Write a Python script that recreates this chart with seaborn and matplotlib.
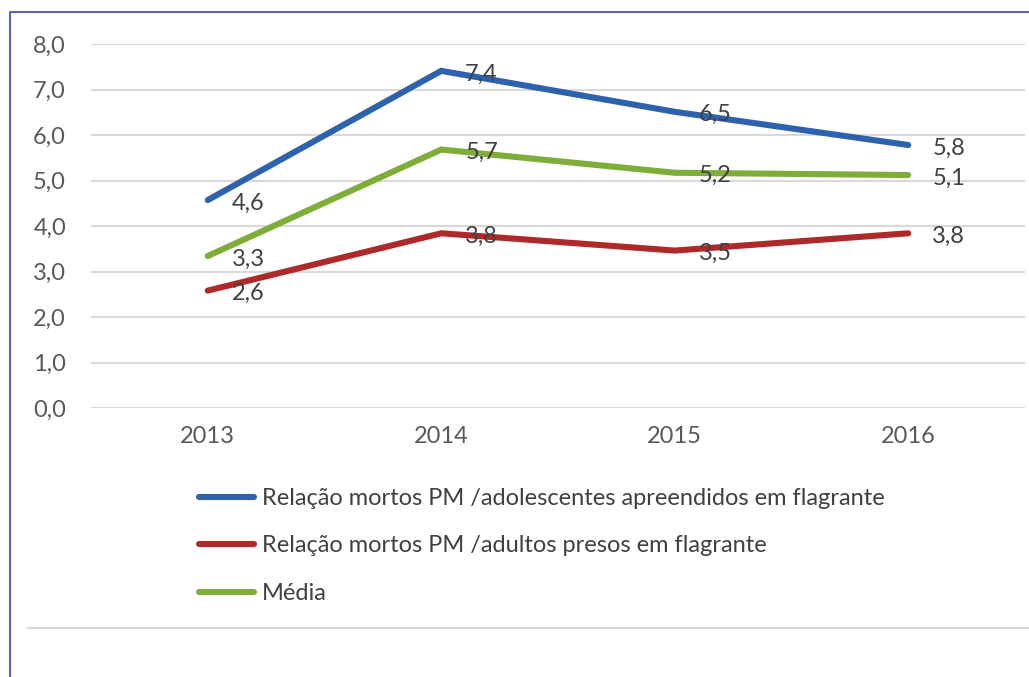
import matplotlib
matplotlib.use("Agg")
import matplotlib.pyplot as plt
import seaborn as sns
import pandas as pd
from matplotlib.lines import Line2D

years = ["2013", "2014", "2015", "2016"]
adolescentes = [4.57, 7.41, 6.51, 5.78]
adultos = [2.58, 3.84, 3.46, 3.84]
media = [3.34, 5.68, 5.17, 5.12]
series_names = [
    "Relação mortos PM /adolescentes apreendidos em flagrante",
    "Relação mortos PM /adultos presos em flagrante",
    "Média",
]
yticks = [0, 1, 2, 3, 4, 5, 6, 7, 8]

colors = ["#2E62AD", "#AE2A2A", "#7FAD3A"]
FS = 17

sns.set_theme(style="white")
plt.rcParams["font.family"] = ["Lato", "DejaVu Sans"]

df = pd.DataFrame({
    "year": years * 3,
    "value": adolescentes + adultos + media,
    "serie": [series_names[0]] * 4 + [series_names[1]] * 4 + [series_names[2]] * 4,
})

fig = plt.figure(figsize=(10.29, 6.77), dpi=100)
W, H = 1029, 677
ax = fig.add_axes([91 / W, 1 - 408 / H, (1025 - 91) / W, (408 - 44) / H])

sns.lineplot(data=df, x="year", y="value", hue="serie", palette=colors,
             linewidth=4.4, ax=ax, legend=False, sort=False,
             solid_capstyle="round", solid_joinstyle="miter")

ax.set_xlim(-0.5, 3.5)
ax.set_ylim(0, 8)
ax.set_yticks(yticks)
ax.set_yticklabels([f"{v:.1f}".replace(".", ",") for v in yticks])
ax.yaxis.grid(True, color="#D9D9D9", linewidth=1.5)
ax.xaxis.grid(False)
for s in ax.spines.values():
    s.set_visible(False)
ax.set_xlabel("")
ax.set_ylabel("")
ax.tick_params(axis="both", length=0, labelsize=FS, colors="#595959")
ax.tick_params(axis="y", pad=18)
ax.tick_params(axis="x", pad=13)

for vals in (adolescentes, adultos, media):
    for i, v in enumerate(vals):
        ax.annotate(f"{v:.1f}".replace(".", ","), (i, v), xytext=(24, -3),
                    textcoords="offset pixels", ha="left", va="center",
                    fontsize=FS, color="#404040")

handles = [Line2D([0], [0], color=c, linewidth=4.4, solid_capstyle="round") for c in colors]
fig.legend(handles, series_names, loc="upper left",
           bbox_to_anchor=(199 / W, 1 - 488 / H), frameon=False,
           fontsize=FS, handlelength=2.35, handletextpad=0.3,
           labelspacing=1.12, labelcolor="#404040", borderaxespad=0, borderpad=0)

# frame lines (blue border at left/top, grey separator)
fig.add_artist(Line2D([10 / W, 10 / W, 1.0], [0.0, 1 - 12 / H, 1 - 12 / H],
                      transform=fig.transFigure, color="#3A45B5", linewidth=1.2))
fig.add_artist(Line2D([28 / W, 1.0], [1 - 628 / H, 1 - 628 / H],
                      transform=fig.transFigure, color="#D9D9D9", linewidth=1.5))

fig.savefig("out.png", dpi=100, facecolor="white")
